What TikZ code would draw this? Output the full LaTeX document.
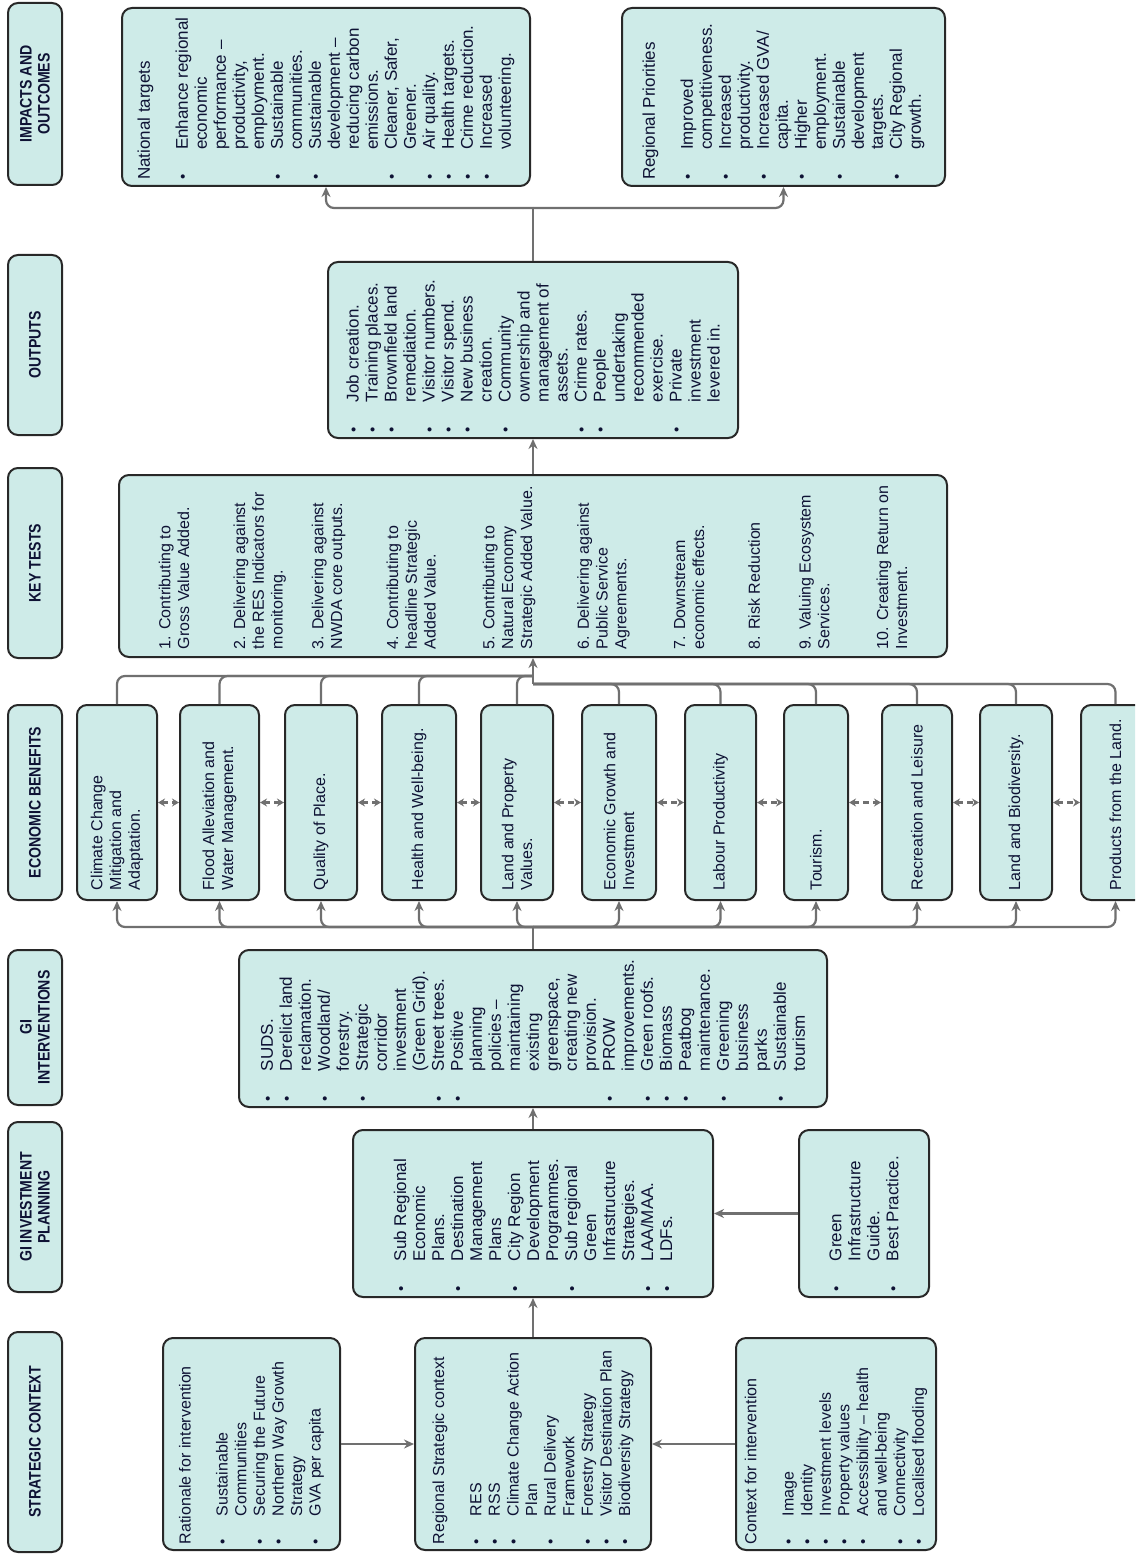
\documentclass[tikz,border=0pt]{standalone}
\usepackage{fontspec}
\setmainfont{Liberation Sans}
\newfontfamily\hdrfont[FakeStretch=0.85]{Liberation Sans}
\usepackage{graphicx}
\usetikzlibrary{arrows.meta}

\definecolor{panelfill}{RGB}{206,235,232}
\definecolor{panelline}{RGB}{40,40,40}
\definecolor{linkgrey}{RGB}{112,112,112}
\definecolor{ink}{RGB}{14,18,52}

% bullet lists inside the turned panels (\\ breaks a line, not the item)
\newlength{\itemind}
\setlength{\itemind}{15pt}
\newcommand{\paneltext}[3]{\rotatebox{90}{\parbox[c][#2][c]{#1}{\raggedright\let\\\newline #3}}}
\newcommand{\ptitle}[1]{#1\par\vspace{\baselineskip}}
\newcommand{\itm}{\par\hangindent=\itemind\hangafter=0\noindent\llap{\makebox[\itemind][l]{\fontsize{7.5}{7.5}\selectfont\textbullet}}\ignorespaces}

\tikzset{
  panel/.style={draw=panelline, line width=1pt, rounded corners=5pt, fill=panelfill,
    text=ink, inner sep=3pt, font=\fontsize{8.5}{9.5}\selectfont},
  benefit/.style={panel, inner sep=5pt, font=\fontsize{8}{9.4}\selectfont},
  context/.style={panel, font=\fontsize{8}{9.3}\selectfont},
  hdr/.style={panel, rotate=90, minimum height=27pt, inner sep=0pt, align=center,
    font=\hdrfont\bfseries\fontsize{8.3}{9}\selectfont},
  link/.style={draw=linkgrey, line width=1.1pt, rounded corners=4pt},
  arr/.style={link, -{Stealth[length=5pt,width=4.5pt]}},
  peer/.style={draw=linkgrey, line width=1.1pt, densely dashed,
    {Stealth[length=3.5pt,width=4pt]}-{Stealth[length=3.5pt,width=4pt]}}
}

\begin{document}
\begin{tikzpicture}[x=0.5pt, y=-0.5pt]
  \useasboundingbox (0,0) rectangle (1135,1556);
  \fill[white] (0,0) rectangle (1135,1556);
  \clip (0,0) rectangle (1135,1556);

  % row headers
  \node[hdr, minimum width=91pt] (hImp) at (35,94) {IMPACTS AND\\OUTCOMES};
  \node[hdr, minimum width=90pt] (hOut) at (35,345) {OUTPUTS};
  \node[hdr, minimum width=95pt] (hKey) at (35,563) {KEY TESTS};
  \node[hdr, minimum width=97.5pt] (hEco) at (35,802.5) {ECONOMIC BENEFITS};
  \node[hdr, minimum width=77.5pt] (hInt) at (35,1027.5) {GI\\INTERVENTIONS};
  \node[hdr, minimum width=85pt] (hPlan) at (35,1207) {GI INVESTMENT\\PLANNING};
  \node[hdr, minimum width=110pt] (hStr) at (35,1442) {STRATEGIC CONTEXT};

  % impacts and outcomes
  \node[panel] (natl) at (326,97) {\paneltext{83pt}{198pt}{%
    \ptitle{National targets}
    \itm Enhance regional\\economic\\performance –\\productivity,\\employment.
    \itm Sustainable\\communities.
    \itm Sustainable\\development –\\reducing carbon\\emissions.
    \itm Cleaner, Safer,\\Greener.
    \itm Air quality.
    \itm Health targets.
    \itm Crime reduction.
    \itm Increased\\volunteering.}};
  \node[panel] (regl) at (783.5,97) {\paneltext{83pt}{155.5pt}{%
    \ptitle{Regional Priorities}
    \itm Improved\\competitiveness.
    \itm Increased\\productivity.
    \itm Increased GVA/\\capita.
    \itm Higher\\employment.
    \itm Sustainable\\development\\targets.
    \itm City Regional\\growth.}};

  % outputs
  \node[panel] (outp) at (533,350) {\paneltext{82pt}{199pt}{%
    \itm Job creation.
    \itm Training places.
    \itm Brownfield land\\remediation.
    \itm Visitor numbers.
    \itm Visitor spend.
    \itm New business\\creation.
    \itm Community\\ownership and\\management of\\assets.
    \itm Crime rates.
    \itm People\\undertaking\\recommended\\exercise.
    \itm Private\\investment\\levered in.}};

  % key tests
  \node[panel, inner sep=4pt, font=\fontsize{8}{9.4}\selectfont] (keyt) at (533,566) {\paneltext{83pt}{406pt}{%
    1. Contributing to\\Gross Value Added.\par\vspace{18.5pt}
    2. Delivering against\\the RES Indicators for\\monitoring.\par\vspace{11pt}
    3. Delivering against\\NWDA core outputs.\par\vspace{18.5pt}
    4. Contributing to\\headline Strategic\\Added Value.\par\vspace{20pt}
    5. Contributing to\\Natural Economy\\Strategic Added Value.\par\vspace{19pt}
    6. Delivering against\\Public Service\\Agreements.\par\vspace{20pt}
    7. Downstream\\economic effects.\par\vspace{18.5pt}
    8. Risk Reduction\par\vspace{16pt}
    9. Valuing Ecosystem\\Services.\par\vspace{20pt}
    10. Creating Return on\\Investment.}};

  % economic benefits
  \foreach \nm/\cx/\bw/\btext in {
      b1/117/30/{Climate Change\\Mitigation and\\Adaptation.},
      b2/219.5/29.5/{Flood Alleviation and\\Water Management.},
      b3/321/26/{Quality of Place.},
      b4/419/27/{Health and Well-being.},
      b5/517/26/{Land and Property\\Values.},
      b6/619/27/{Economic Growth and\\Investment},
      b7/720.5/25.5/{Labour Productivity},
      b8/816/22/{Tourism.},
      b9/917/25/{Recreation and Leisure},
      b10/1016/26/{Land and Biodiversity.},
      b11/1115.5/24.5/{Products from the Land.}}
    \node[benefit] (\nm) at (\cx,802.5) {\paneltext{87.5pt}{\bw pt}{\btext}};

  % GI interventions
  \node[panel] (gint) at (533,1028.5) {\paneltext{72.5pt}{288pt}{%
    \itm SUDS.
    \itm Derelict land\\reclamation.
    \itm Woodland/\\forestry.
    \itm Strategic\\corridor\\investment\\(Green Grid).
    \itm Street trees.
    \itm Positive\\planning\\policies –\\maintaining\\existing\\greenspace,\\creating new\\provision.
    \itm PROW\\improvements.
    \itm Green roofs.
    \itm Biomass
    \itm Peatbog\\maintenance.
    \itm Greening\\business\\parks
    \itm Sustainable\\tourism}};

  % GI investment planning
  \node[panel] (plan) at (533,1213.5) {\paneltext{77.5pt}{174pt}{%
    \itm Sub Regional\\Economic\\Plans.
    \itm Destination\\Management\\Plans
    \itm City Region\\Development\\Programmes.
    \itm Sub regional\\Green\\Infrastructure\\Strategies.
    \itm LAA/MAA.
    \itm LDFs.}};
  \node[panel] (guide) at (864,1213.5) {\paneltext{77.5pt}{59pt}{%
    \itm Green\\Infrastructure\\Guide.
    \itm Best Practice.}};

  % strategic context
  \setlength{\itemind}{14pt}
  \node[context] (ratl) at (251.5,1444) {\paneltext{100pt}{82.5pt}{%
    \ptitle{Rationale for intervention}
    \itm Sustainable\\Communities
    \itm Securing the Future
    \itm Northern Way Growth\\Strategy
    \itm GVA per capita}};
  \node[context] (regs) at (533,1444) {\paneltext{100pt}{112pt}{%
    \ptitle{Regional Strategic context}
    \itm RES
    \itm RSS
    \itm Climate Change Action\\Plan
    \itm Rural Delivery\\Framework
    \itm Forestry Strategy
    \itm Visitor Destination Plan
    \itm Biodiversity Strategy}};
  \node[context] (ctxt) at (836,1444) {\paneltext{100pt}{94pt}{%
    \ptitle{Context for intervention}
    \itm Image
    \itm Identity
    \itm Investment levels
    \itm Property values
    \itm Accessibility – health\\and well-being
    \itm Connectivity
    \itm Localised flooding}};

  % connectors
  \draw[arr] (ratl.east) -- (regs.west);
  \draw[arr] (ctxt.west) -- (regs.east);
  \draw[arr] (regs.north) -- (plan.south);
  \draw[arr] (guide.west) -- (plan.east);
  \draw[arr] (plan.north) -- (gint.south);

  \coordinate (lowbus) at (533,927);
  \draw[link] (gint.north) -- (lowbus);
  \foreach \b in {b1,b2,b3,b4,b5,b6,b7,b8,b9,b10,b11}
    \draw[arr] (lowbus) -| (\b.south);
  \foreach \a/\b in {b1/b2,b2/b3,b3/b4,b4/b5,b5/b6,b6/b7,b7/b8,b8/b9,b9/b10,b10/b11}
    \draw[peer] (\a.east) -- (\b.west);

  \coordinate (upbusL) at (533,676);
  \coordinate (upbusR) at (533,684);
  \foreach \b in {b1,b2,b3,b4,b5}
    \draw[link] (\b.north) |- (upbusL);
  \foreach \b in {b6,b7,b8,b9,b10,b11}
    \draw[link] (\b.north) |- (upbusR);
  \draw[arr] (upbusR) -- (keyt.south);

  \draw[arr] (keyt.north) -- (outp.south);
  \coordinate (topbus) at (533,208);
  \draw[link] (outp.north) -- (topbus);
  \draw[arr] (topbus) -| (natl.south);
  \draw[arr] (topbus) -| (regl.south);
\end{tikzpicture}
\end{document}
